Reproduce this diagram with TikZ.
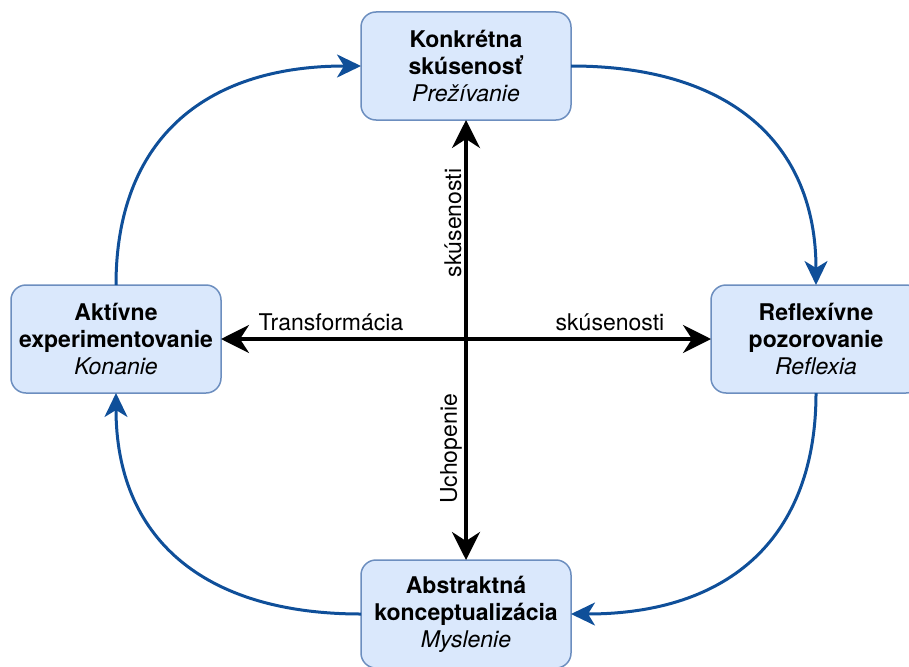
\documentclass[tikz,border=0pt]{standalone}
\usepackage{fontspec}
\setmainfont{TeX Gyre Heros}
\usetikzlibrary{arrows.meta}
\definecolor{boxfill}{HTML}{DAE8FC}
\definecolor{boxline}{HTML}{6C8EBF}
\definecolor{cyc}{HTML}{0F4F99}
\tikzset{
  stage/.style={draw=boxline, fill=boxfill, line width=1.5pt, rounded corners=15pt,
    minimum width=210pt, minimum height=108pt, outer sep=0pt, align=center,
    font=\fontsize{23}{27}\selectfont},
  cycle/.style={draw=cyc, line width=3pt, -{Stealth[length=24pt,width=23pt,inset=7pt]}},
  axis/.style={draw=black, line width=3.8pt, {Stealth[length=28pt,width=28pt,inset=9pt]}-{Stealth[length=28pt,width=28pt,inset=9pt]}},
  lbl/.style={font=\fontsize{23}{27}\selectfont, inner sep=0pt}
}
\begin{document}
\begin{tikzpicture}[x=1pt,y=-1pt]
\useasboundingbox (0,0) rectangle (909,666);
\node[stage] (top) at (466,66) {\textbf{Konkrétna}\\\textbf{skúsenosť}\\\textit{Prežívanie}};
\node[stage] (left) at (116,339) {\textbf{Aktívne}\\\textbf{experimentovanie}\\\textit{Konanie}};
\node[stage] (right) at (816,339) {\textbf{Reflexívne}\\\textbf{pozorovanie}\\\textit{Reflexia}};
\node[stage] (bot) at (466,614) {\textbf{Abstraktná}\\\textbf{konceptualizácia}\\\textit{Myslenie}};
\draw[axis] (top.south) -- (bot.north);
\draw[axis] (left.east) -- (right.west);
\draw[cycle] (top.east) .. controls (730,66) and (816,143) .. (right.north);
\draw[cycle] (right.south) .. controls (816,537) and (730,614) .. (bot.east);
\draw[cycle] (bot.west) .. controls (202,614) and (116,537) .. (left.south);
\draw[cycle] (left.north) .. controls (116,142) and (202,66) .. (top.west);
\node[lbl, rotate=90] (l1) at (453,223) {skúsenosti};
\node[lbl, rotate=90] (l2) at (451,449) {Uchopenie};
\node[lbl] (l3) at (331,322) {Transformácia};
\node[lbl] (l4) at (610,322) {skúsenosti};
\end{tikzpicture}
\end{document}
